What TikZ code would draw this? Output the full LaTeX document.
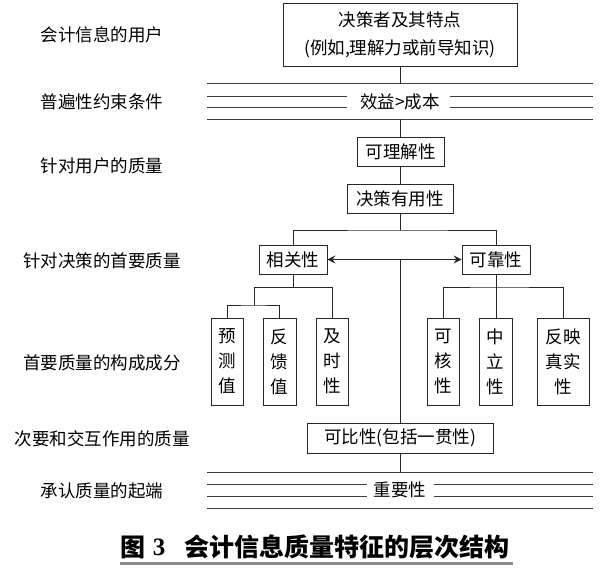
\documentclass[tikz,border=0pt]{standalone}
\usepackage{fontspec}
\newfontfamily\cjk{Noto Sans CJK SC}
\newfontfamily\serifnum{Liberation Serif}
\usetikzlibrary{arrows.meta,calc}
\tikzset{
  lbl/.style={font=\cjk\fontsize{17.5}{22}\selectfont, inner sep=0pt, anchor=center},
  box/.style={draw=black!85, line width=0.9pt, font=\cjk\fontsize{17.5}{22}\selectfont, inner sep=0pt, align=center},
  vbox/.style={box, font=\cjk\fontsize{17.5}{25}\selectfont},
  conn/.style={draw=black!85, line width=0.9pt},
  rule/.style={draw=black!75, line width=0.9pt},
  captxt/.style={font=\cjk\bfseries\fontsize{25}{28}\selectfont, inner sep=0pt},
}
\begin{document}
\begin{tikzpicture}[x=1pt,y=-1pt]
\useasboundingbox (0,0) rectangle (601,567);
% left labels
\node[lbl] (l1) at (102,35) {会计信息的用户};
\node[lbl] (l2) at (102,102) {普遍性约束条件};
\node[lbl] (l3) at (102,166) {针对用户的质量};
\node[lbl] (l4) at (102,261) {针对决策的首要质量};
\node[lbl] (l5) at (102,363) {首要质量的构成成分};
\node[lbl] (l6) at (102,439) {次要和交互作用的质量};
\node[lbl] (l7) at (102,491) {承认质量的起端};
% top box
\node[box, minimum width=234pt, minimum height=63pt, font=\cjk\fontsize{17.5}{28}\selectfont] (top) at (400,34.5) {决策者及其特点\\(例如,理解力或前导知识)};
% constraint lines
\coordinate (c1) at (400,83);
\draw[rule] (207,83) -- (593,83);
\draw[rule] (207,96) -- (347,96) (450,96) -- (593,96);
\draw[rule] (207,107) -- (347,107) (450,107) -- (593,107);
\draw[rule] (207,119) -- (593,119);
\node[lbl] (cb) at (400,102) {效益>成本};
\coordinate (c2) at (400,119);
\draw[conn] (top.south) -- (c1);
% user quality
\node[box, minimum width=87pt, minimum height=29pt] (und) at (400.5,151.5) {可理解性};
\node[box, minimum width=106pt, minimum height=29pt] (dec) at (400,198.5) {决策有用性};
\draw[conn] (c2) -- (und.north -| c2);
\draw[conn] (und.south -| dec.north) -- (dec.north);
% primary
\node[box, minimum width=68pt, minimum height=29pt] (rel) at (293,259.5) {相关性};
\node[box, minimum width=68pt, minimum height=29pt] (rlb) at (496,259.5) {可靠性};
\coordinate (bar) at (400,230);
\draw[conn] (dec.south) -- (bar);
\draw[conn] (rel.north) |- (bar) -| (rlb.north);
\draw[conn, {Stealth[length=8pt,width=8pt,inset=3pt]}-{Stealth[length=8pt,width=8pt,inset=3pt]}] (rel.east) -- (rlb.west);
% components
\node[vbox, minimum width=32pt, minimum height=87pt] (pred) at (227,361.5) {预\\测\\值};
\node[vbox, minimum width=33pt, minimum height=87pt] (fb) at (279.5,361.5) {反\\馈\\值};
\node[vbox, minimum width=32pt, minimum height=87pt] (tim) at (332,361.5) {及\\时\\性};
\node[vbox, minimum width=32pt, minimum height=87pt] (ver) at (443,361.5) {可\\核\\性};
\node[vbox, minimum width=33pt, minimum height=87pt] (neu) at (495.5,361.5) {中\\立\\性};
\node[vbox, minimum width=52pt, minimum height=87pt] (fai) at (563,361.5) {反映\\真实\\性};
\coordinate (lj) at (254,287);
\coordinate (lj2) at (254,305);
\draw[conn] (rel.south) -- (rel.south |- lj);
\draw[conn] (lj2) -- (lj) -| (tim.north);
\draw[conn] (pred.north) |- (lj2) -| (fb.north);
\coordinate (rj) at (496,287);
\draw[conn] (rlb.south) -- (rj) -- (neu.north -| rj);
\draw[conn] (ver.north) |- (rj) -| (fai.north);
% comparability
\node[box, minimum width=186pt, minimum height=30pt] (cmp) at (400,438) {可比性(包括一贯性)};
\draw[conn] (cmp.north |- rel.east) -- (cmp.north);
\coordinate (c3) at (400,472);
\draw[conn] (cmp.south) -- (c3);
% materiality lines
\draw[rule] (207,472) -- (593,472);
\draw[rule] (207,484) -- (367,484) (434,484) -- (593,484);
\draw[rule] (207,496) -- (367,496) (434,496) -- (593,496);
\draw[rule] (207,508) -- (593,508);
\node[lbl] (mat) at (400,490) {重要性};
% caption
\node[captxt] (capfig) at (132.5,547) {图};
\node[font=\serifnum\bfseries\fontsize{25}{28}\selectfont, inner sep=0pt] (capnum) at (159,547) {3};
\node[captxt, anchor=west] (captitle) at (184,547) {会计信息质量特征的层次结构};
\draw[draw=black!45, line width=3pt] (120,563) -- (513,563);
\end{tikzpicture}
\end{document}
